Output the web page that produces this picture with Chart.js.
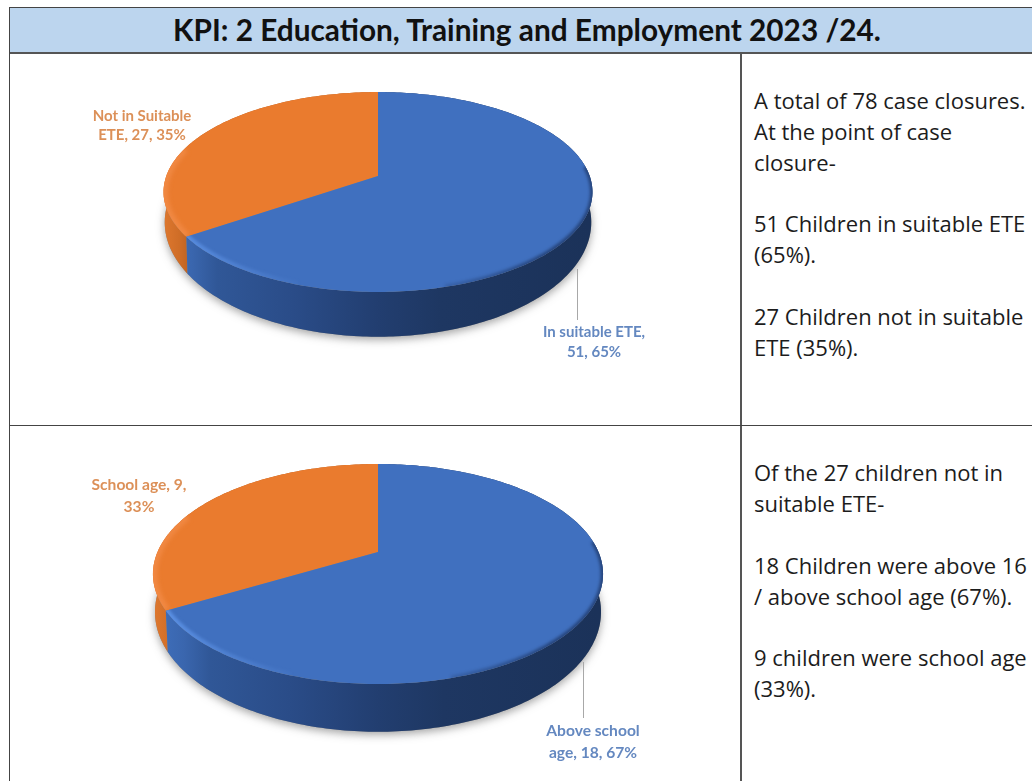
<!DOCTYPE html>
<html><head><meta charset="utf-8">
<script src="https://cdn.jsdelivr.net/npm/chart.js@4"></script>
<style>
html,body{margin:0;padding:0;background:#fff;width:1032px;height:781px;overflow:hidden;font-family:Lato,"Open Sans",sans-serif}
.abs{position:absolute}
#band{left:9px;top:7px;width:1023px;height:44px;background:#bcd5ee;border-top:1px solid #444;border-bottom:2px solid #555}
#title{left:9px;top:8px;width:1023px;height:44px;line-height:43px;text-align:center;font-weight:700;font-size:29.8px;color:#111;padding-left:13px;box-sizing:border-box;white-space:nowrap}
#vl{left:740px;top:53px;width:2px;height:728px;background:#555}
#hl{left:9px;top:425px;width:1023px;height:1px;background:#444}
#ll{left:9px;top:7px;width:1px;height:774px;background:#444}
.side{left:754px;font-family:"Open Sans",sans-serif;font-size:22px;line-height:31px;height:31px;color:#1c1c1c;white-space:nowrap}
.lab{text-align:center;font-weight:700;white-space:nowrap;transform:translateX(-50%)}
canvas{position:absolute}
</style></head><body>
<div class="abs" id="band"></div>
<div class="abs" id="title"></div>
<div class="abs" id="ll"></div><div class="abs" id="vl"></div><div class="abs" id="hl"></div>
<canvas id="c1" width="731" height="372" style="left:10px;top:53px"></canvas>
<canvas id="c2" width="731" height="355" style="left:10px;top:426px"></canvas>
<script>
const chartTitle = "KPI: 2 Education, Training and Employment 2023 /24.";
const categories1 = ["In suitable ETE", "Not in Suitable ETE"];
const values1 = [51, 27];
const categories2 = ["Above school age", "School age"];
const values2 = [18, 9];
const seriesColors = ["#4070bf", "#ea7b2e"];
const labelLines1 = [["In suitable ETE,", "51, 65%"], ["Not in Suitable", "ETE, 27, 35%"]];
const labelLines2 = [["Above school", "age, 18, 67%"], ["School age, 9,", "33%"]];
const sideText1 = ["A total of 78 case closures.", "At the point of case", "closure-", "51 Children in suitable ETE", "(65%).", "27 Children not in suitable", "ETE (35%)."];
const sideText2 = ["Of the 27 children not in", "suitable ETE-", "18 Children were above 16", "/ above school age (67%).", "9 children were school age", "(33%)."];

document.getElementById('title').textContent = chartTitle;
function addSide(lines, tops){ lines.forEach((t,i)=>{const d=document.createElement('div');d.className='abs side';d.style.top=tops[i]+'px';d.textContent=t;document.body.appendChild(d);}); }
addSide(sideText1,[85,116,147,208,239,301,332]);
addSide(sideText2,[457,488,550,581,642,673]);
function addLabel(lines,cx,tops,color,size){ lines.forEach((t,i)=>{const d=document.createElement('div');d.className='abs lab';d.style.cssText+=`left:${cx}px;top:${tops[i]-10}px;height:20px;line-height:20px;color:${color};font-size:${size}px`;d.textContent=t;document.body.appendChild(d);}); }
addLabel(labelLines1[0],594,[331,351],'#6488c0',15);
addLabel(labelLines1[1],142,[115,134],'#dc9058',15);
addLabel(labelLines2[0],593,[730,752],'#6488c0',15.6);
addLabel(labelLines2[1],139,[484,506],'#dc9058',15.6);

const pie3d = {
  id:'pie3d',
  beforeDatasetsDraw(chart,args,o){
    const ctx=chart.ctx, arcs=chart.getDatasetMeta(0).data;
    ctx.save();
    ctx.translate(-o.ox,-o.oy);
    const T=t=>{const u=Math.cos(t),v=Math.sin(t),w=1-o.p*v;return [o.cx+o.a*u/w,o.y0+o.b*v/w];};
    const B=t=>{const u=Math.cos(t),v=Math.sin(t),w=1-o.p*v;return [o.cx+o.a2*u/w,o.y2+o.b2*v/w];};
    const STEP=Math.PI/180;
    const trace=(f,s,e,first)=>{const n=Math.ceil(Math.abs(e-s)/STEP);for(let i=0;i<=n;i++){const q=f(s+(e-s)*i/n);(i===0&&first)?ctx.moveTo(q[0],q[1]):ctx.lineTo(q[0],q[1]);}};
    // soft ground shadow
    ctx.save();
    ctx.shadowColor='rgba(90,90,90,.55)';ctx.shadowBlur=9;ctx.shadowOffsetY=3;
    ctx.fillStyle='#888';ctx.beginPath();trace(B,0,Math.PI*2,true);ctx.closePath();ctx.fill();
    ctx.restore();
    // side walls, orange first then blue
    const wg=(x0,x1,stops)=>{const g=ctx.createLinearGradient(x0,0,x1,0);stops.forEach(s=>g.addColorStop(s[0],s[1]));return g;};
    const blueWall=wg(o.cx-o.a,o.cx+o.a,[[0,'#3f6fbc'],[.06,'#3a66ae'],[.12,'#305797'],[.3,'#2a4c88'],[.5,'#223e70'],[.65,'#1e3762'],[1,'#1b3259']]);
    const orangeWall=wg(o.cx-o.a-2,o.cx-o.a+28,[[0,'#dd772e'],[.5,'#cf6d27'],[1,'#b45d20']]);
    [1,0].forEach(i=>{const a=arcs[i];ctx.beginPath();trace(T,a.startAngle,a.endAngle,true);trace(B,a.endAngle,a.startAngle,false);ctx.closePath();ctx.fillStyle=i===0?blueWall:orangeWall;ctx.fill();});
    // top surfaces
    [1,0].forEach(i=>{const a=arcs[i];ctx.beginPath();ctx.moveTo(o.cx,o.y0);trace(T,a.startAngle,a.endAngle,false);ctx.closePath();ctx.fillStyle=a.options.backgroundColor;ctx.fill();});
    // rim bevels (soft)
    const A0=arcs[0],A1=arcs[1];
    ctx.lineCap='butt';
    ctx.save();ctx.beginPath();ctx.moveTo(o.cx,o.y0);trace(T,A1.startAngle,A1.endAngle,false);ctx.closePath();ctx.clip();
    ctx.filter='blur(2px)';
    ctx.beginPath();trace(T,A1.startAngle,A1.startAngle+0.9,true);ctx.strokeStyle='rgba(245,145,80,.6)';ctx.lineWidth=9;ctx.stroke();ctx.restore();
    ctx.save();ctx.beginPath();ctx.moveTo(o.cx,o.y0);trace(T,A0.startAngle,A0.endAngle,false);ctx.closePath();ctx.clip();
    ctx.filter='blur(1.5px)';
    const rim=wg(o.cx-o.a,o.cx-o.a*0.3,[[0,'rgba(95,150,235,.9)'],[.6,'rgba(85,135,215,.5)'],[1,'rgba(80,130,210,0)']]);
    ctx.beginPath();trace(T,Math.PI-0.1,1.9,true);ctx.strokeStyle=rim;ctx.lineWidth=7;ctx.stroke();
    const dk=wg(o.cx+o.a*0.1,o.cx+o.a*0.8,[[0,'rgba(20,40,80,0)'],[1,'rgba(20,40,80,.6)']]);
    ctx.beginPath();trace(T,-0.1,1.3,true);ctx.strokeStyle=dk;ctx.lineWidth=5;ctx.stroke();
    ctx.restore();
    // leader line
    ctx.strokeStyle='#a8a8a8';ctx.lineWidth=1;ctx.beginPath();ctx.moveTo(o.lx+.5,o.ly0);ctx.lineTo(o.lx+.5,o.ly1);ctx.stroke();
    ctx.restore();
    return false;
  }
};
function makePie(id,cats,vals,geom){
  return new Chart(document.getElementById(id),{
    type:'pie',
    data:{labels:cats,datasets:[{data:vals,backgroundColor:seriesColors,borderWidth:0}]},
    options:{responsive:false,animation:false,events:[],
      plugins:{legend:{display:false},tooltip:{enabled:false},title:{display:false},pie3d:geom}},
    plugins:[pie3d]
  });
}
makePie('c1',categories1,values1,{ox:10,oy:53,cx:378,y0:176,a:211.7,b:97.4,p:.16,a2:210.5,y2:204,b2:111.5,lx:577,ly0:269,ly1:320});
makePie('c2',categories2,values2,{ox:10,oy:426,cx:378,y0:552,a:220.5,b:105.6,p:.2,a2:218.5,y2:588,b2:115,lx:583,ly0:662,ly1:718});
</script>
</body></html>
